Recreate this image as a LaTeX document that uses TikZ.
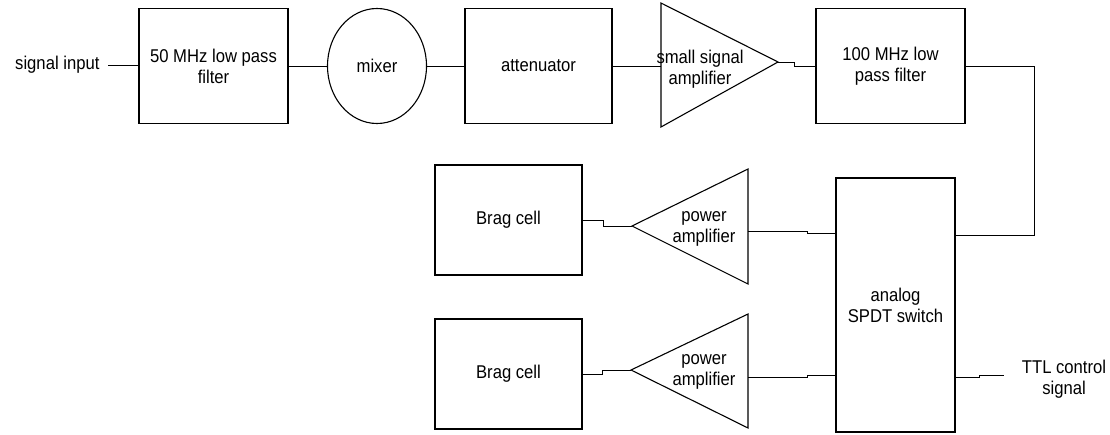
\documentclass[tikz,border=0pt]{standalone}
\usepackage{fontspec}
\setmainfont[FakeStretch=0.9]{Liberation Sans}
\usetikzlibrary{shapes.geometric}
\newcommand{\fs}{\fontsize{18.5}{21}\selectfont}
\begin{document}
\begin{tikzpicture}[x=1pt,y=-1pt,line width=1.1pt,
  box/.style={draw,line width=1.1pt,inner sep=0pt,align=center,font=\fs},
  lbl/.style={inner sep=0pt,align=center,font=\fs},
  wire/.style={line width=0.9pt}]
\useasboundingbox (0,0) rectangle (1110,434);
% top row
\node[lbl,anchor=east] (sin) at (100,65) {signal input};
\coordinate (sinend) at (108,65);
\node[box,minimum width=149pt,minimum height=115pt] (f50) at (213.5,66) {50 MHz low pass\\filter};
\node[box,ellipse,minimum width=99pt,minimum height=115pt] (mix) at (377,66) {mixer};
\node[box,minimum width=147pt,minimum height=115pt] (att) at (538.5,66) {attenuator};
\coordinate (ssaA) at (661,3);
\coordinate (ssaB) at (661,127);
\coordinate (ssaT) at (778,62);
\draw (ssaA) -- (ssaT) -- (ssaB) -- cycle;
\node[lbl] (ssa) at (700,69.5) {small signal\\amplifier};
\node[box,minimum width=149pt,minimum height=115pt] (f100) at (890.5,66) {100 MHz low\\pass filter};
% switch
\node[box,minimum width=119pt,minimum height=254pt] (spdt) at (895.5,305) {analog\\SPDT switch};
\coordinate (rt) at (1034,235);
% power amplifiers
\coordinate (pa1A) at (748,169);
\coordinate (pa1B) at (748,284);
\coordinate (pa1T) at (632,226);
\draw (pa1A) -- (pa1T) -- (pa1B) -- cycle;
\node[lbl] (pa1) at (704,228.5) {power\\amplifier};
\coordinate (pa1o) at (748,231);
\coordinate (pa2A) at (748,314);
\coordinate (pa2B) at (748,428);
\coordinate (pa2T) at (631,370);
\draw (pa2A) -- (pa2T) -- (pa2B) -- cycle;
\node[lbl] (pa2) at (704,371.5) {power\\amplifier};
\coordinate (pa2o) at (748,377);
% bragg cells
\node[box,minimum width=147pt,minimum height=110pt] (brag1) at (508.5,220) {Brag cell};
\node[box,minimum width=147pt,minimum height=110pt] (brag2) at (508.5,374) {Brag cell};
% TTL
\node[lbl] (ttl) at (1064,379.5) {TTL control\\signal};
\coordinate (ttlend) at (1004,375);
% ports on switch
\coordinate (sp1) at (spdt.west |- 0,233);
\coordinate (sp2) at (spdt.west |- 0,375);
\coordinate (sp3) at (spdt.east |- 0,377);
% connectors
\draw[wire] (sinend) -- (sinend -| f50.west);
\draw[wire] (f50.east) -- (mix.west);
\draw[wire] (mix.east) -- (att.west);
\draw[wire] (att.east) -- (att.east -| ssaA);
\draw[wire] (ssaT) -- ++(16,0) |- (f100.west);
\draw[wire] (f100.east) -| (rt) -- (rt -| spdt.east);
\draw[wire] (pa1o) -- ++(59,0) |- (sp1);
\draw[wire] (pa1T) -- ++(-29,0) |- (brag1.east);
\draw[wire] (pa2o) -- ++(59,0) |- (sp2);
\draw[wire] (pa2T) -- ++(-29,0) |- (brag2.east);
\draw[wire] (sp3) -- ++(24,0) |- (ttlend);
\end{tikzpicture}
\end{document}
